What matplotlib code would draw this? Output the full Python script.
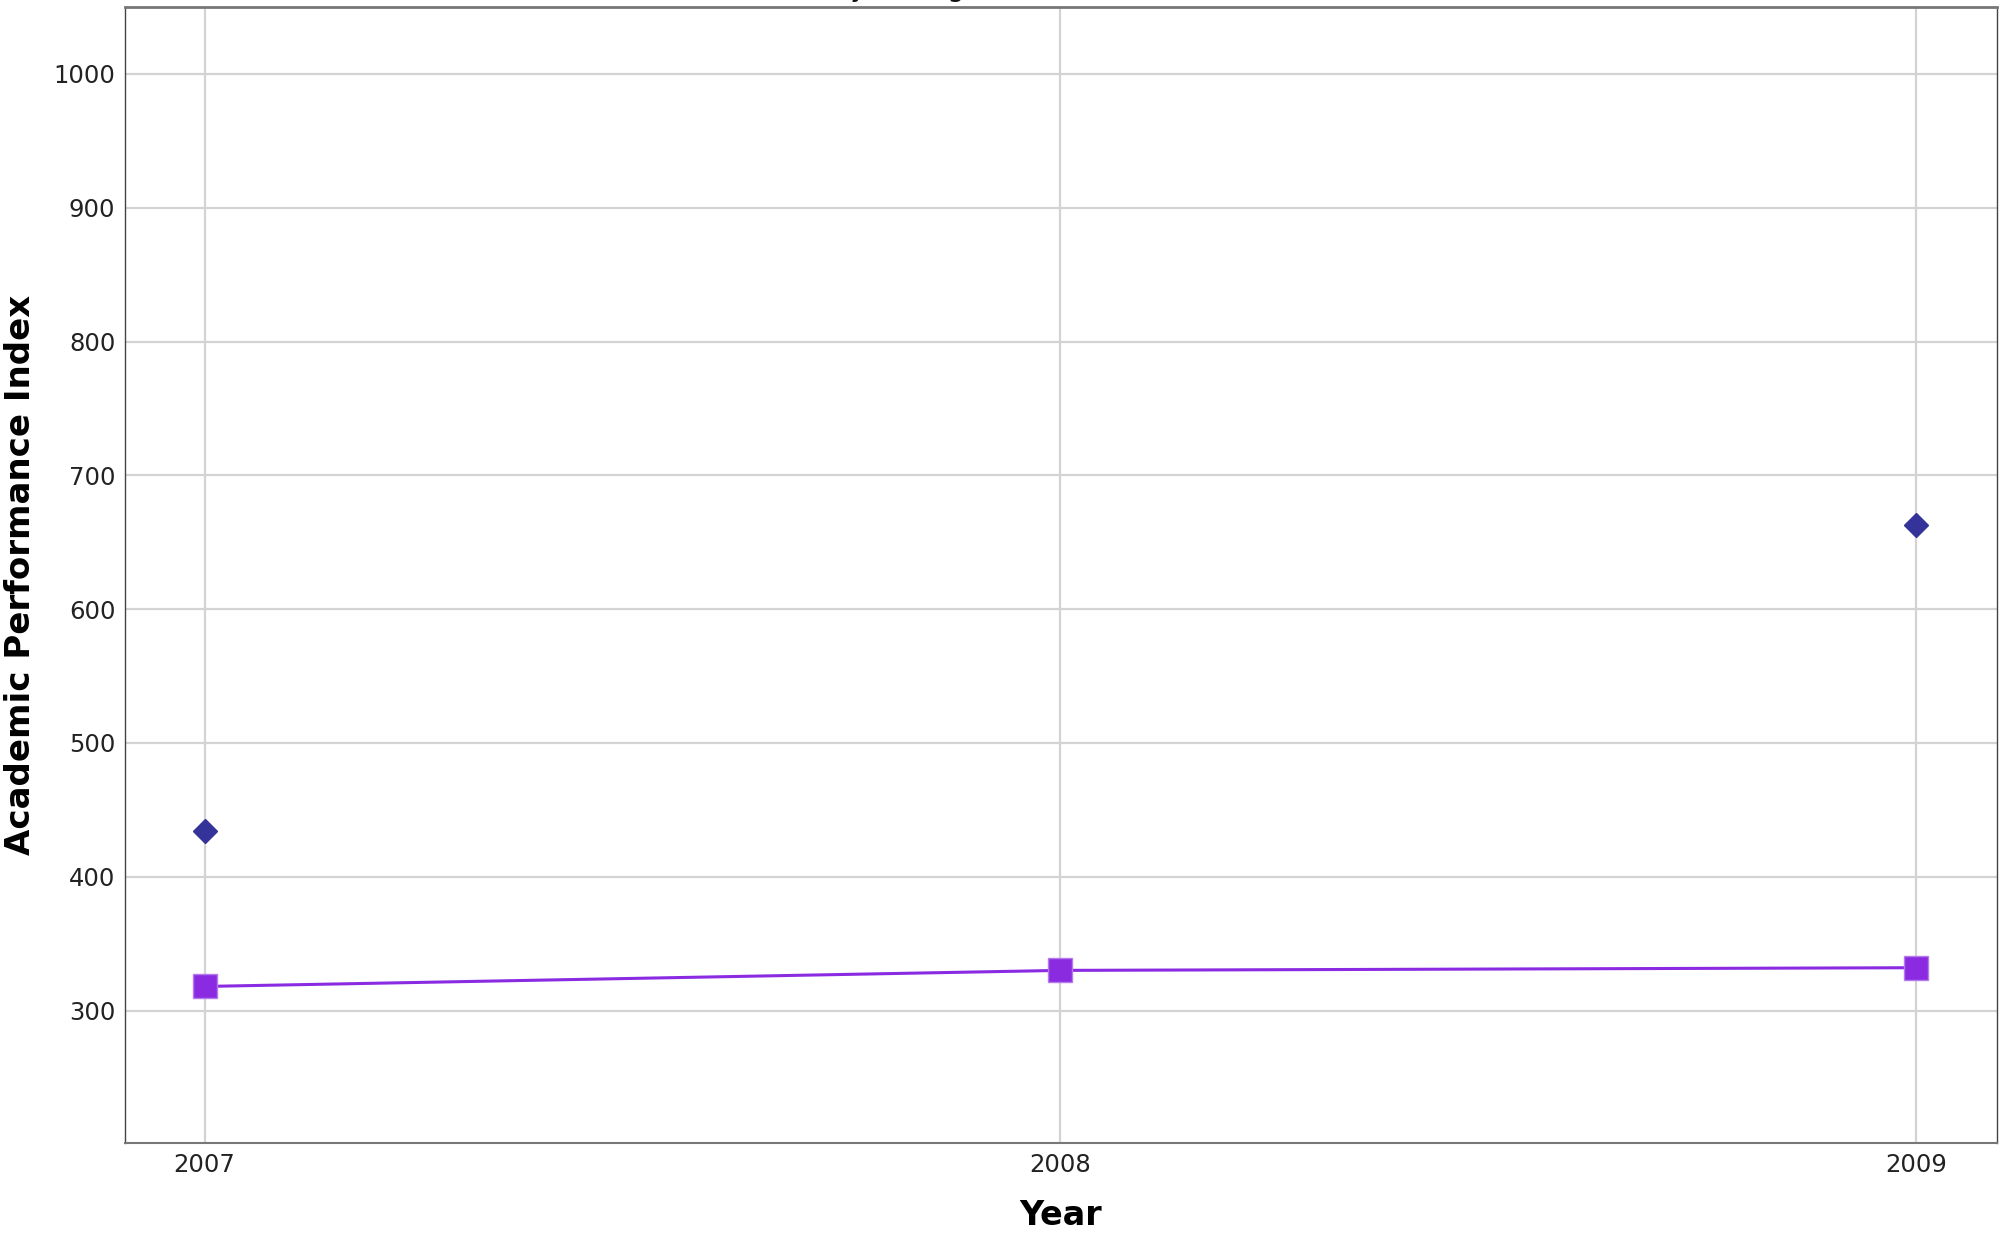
import numpy as np
import matplotlib
matplotlib.use("Agg")
import matplotlib.pyplot as plt

years = [2007, 2008, 2009]
series_a = [434, np.nan, 663]      # diamonds
series_b = [318, 330, 332]         # squares with line
y_ticks = [300, 400, 500, 600, 700, 800, 900, 1000]
title = "Academic Performance Index: Yearly Change"

plt.rcParams['font.family'] = ['DejaVu Sans']

W, H = 2005, 1237
fig = plt.figure(figsize=(W / 100, H / 100), dpi=100)
ax = fig.add_axes([125/W, 1-1143/H, (1997-125)/W, (1143-7)/H])

ax.plot(years, series_b, color='#8A2BE2', lw=2.2, marker='s', markersize=17,
        markeredgecolor='#B57BEA', markeredgewidth=1.0, zorder=3)
ax.plot(years, series_a, color='#333399', lw=0, marker='D', markersize=12.5,
        markeredgecolor='#333399', zorder=3)

ax.set_xlim(2007 - 0.093, 2009 + 0.095)
ax.set_ylim(201, 1050)
ax.set_xticks(years)
ax.set_xticklabels([str(y) for y in years])
ax.set_yticks(y_ticks)
ax.grid(True, color='#d3d3d3', lw=1.6, zorder=0)
ax.set_axisbelow(True)
ax.tick_params(length=0, labelsize=17.5, labelcolor='#222222', pad=7)
for s in ax.spines.values():
    s.set_color('#444444')
    s.set_linewidth(1.0)
ax.spines['top'].set_color('#777777')
ax.spines['top'].set_linewidth(2)
ax.spines['bottom'].set_color('#777777')
ax.spines['bottom'].set_linewidth(1.5)

ax.set_xlabel("Year", fontsize=24, fontweight='bold', labelpad=16)
ax.set_ylabel("Academic Performance Index", fontsize=24.5, fontweight='bold', labelpad=12)

# title sits mostly above the canvas (only descenders visible, as in the reference)
renderer = fig.canvas.get_renderer()
tfs = 20
probe = fig.text(0, 0, "Academic Performance Index: Yearl", fontsize=tfs)
pre_w = probe.get_window_extent(renderer).width
probe.set_text("y")
y_w = probe.get_window_extent(renderer).width
probe.remove()
x_left = 859 - pre_w - y_w / 2
fig.text(x_left / W, 1.0 + 3.5 / H, title, ha='left', va='baseline', fontsize=tfs, color='#111111')

fig.savefig("out.png", dpi=100)
